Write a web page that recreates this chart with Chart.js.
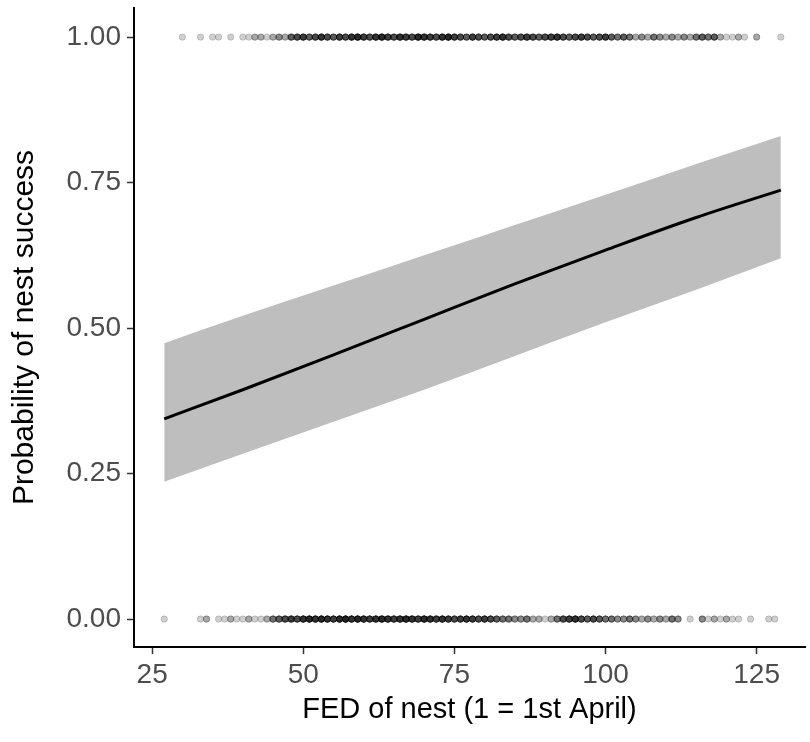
<!DOCTYPE html>
<html>
<head>
<meta charset="utf-8">
<script src="https://cdn.jsdelivr.net/npm/chart.js@4.4.1/dist/chart.umd.min.js"></script>
<style>
  html, body { margin: 0; padding: 0; background: #fff; }
  #wrap { width: 810px; height: 742px; }
</style>
</head>
<body>
<div id="wrap"><canvas id="nestChart" width="810" height="742"></canvas></div>
<script>
/* =====================================================
   DATA
===================================================== */
const fedX    = [27, 40, 55, 70, 85, 100, 115, 129];
const fitProb = [0.344, 0.394, 0.454, 0.515, 0.576, 0.634, 0.690, 0.737];
const ciUpper = [0.474, 0.521, 0.573, 0.625, 0.677, 0.729, 0.782, 0.830];
const ciLower = [0.236, 0.284, 0.339, 0.394, 0.452, 0.510, 0.566, 0.620];

const xTicks = [25, 50, 75, 100, 125];
const yTicks = [0, 0.25, 0.5, 0.75, 1];

// raw nests: day and how many nests share that day
const successDays = [30, 33, 35, 36, 38, 40, 41, 42, 43, 44, 45, 46, 47, 48, 49, 50, 51, 52, 53, 54,
  55, 56, 57, 58, 59, 60, 61, 62, 63, 64, 65, 66, 67, 68, 69, 70, 71, 72, 73, 74, 75, 76, 77, 78,
  79, 80, 81, 82, 83, 84, 85, 86, 87, 88, 89, 90, 91, 92, 93, 94, 95, 96, 97, 98, 99, 100, 101,
  102, 103, 104, 105, 106, 107, 108, 109, 110, 111, 112, 113, 114, 115, 116, 117, 118, 119, 120,
  121, 122, 123, 125, 129];
const successCounts = [1, 1, 1, 1, 1, 1, 1, 2, 2, 1, 2, 3, 2, 5, 6, 7, 5, 6, 8, 6,
  5, 7, 6, 8, 9, 7, 6, 8, 9, 7, 6, 8, 7, 6, 9, 8, 7, 6, 8, 9, 7, 6, 5, 7,
  6, 5, 6, 7, 8, 6, 5, 6, 7, 6, 5, 6, 7, 8, 6, 5, 6, 7, 6, 5, 6, 7, 5,
  4, 5, 4, 2, 3, 2, 4, 3, 2, 3, 2, 3, 2, 4, 5, 4, 5, 2, 1,
  1, 2, 1, 2, 1];

const failDays = [27, 33, 34, 36, 37, 38, 39, 40, 41, 42, 43, 44, 45, 46, 47, 48, 49, 50, 51, 52,
  53, 54, 55, 56, 57, 58, 59, 60, 61, 62, 63, 64, 65, 66, 67, 68, 69, 70, 71, 72, 73, 74, 75, 76,
  77, 78, 79, 80, 81, 82, 83, 84, 85, 86, 87, 88, 89, 90, 91, 92, 93, 94, 95, 96, 97, 98, 99, 100,
  101, 102, 103, 104, 105, 106, 107, 108, 109, 110, 111, 112, 114, 116, 117, 118, 119, 120, 121,
  122, 124, 127, 128];
const failCounts = [1, 1, 2, 1, 1, 2, 1, 1, 2, 1, 1, 2, 4, 5, 6, 7, 6, 8, 9, 8,
  9, 8, 7, 9, 10, 8, 9, 8, 7, 8, 9, 8, 7, 8, 9, 8, 7, 9, 8, 7, 8, 7, 6, 7,
  8, 7, 6, 7, 6, 5, 4, 4, 3, 3, 4, 2, 2, 1, 2, 4, 6, 7, 8, 6, 5, 6, 5, 4,
  4, 3, 3, 4, 3, 2, 3, 2, 3, 2, 4, 3, 1, 3, 1, 2, 1, 2, 1,
  1, 1, 1, 1];

/* =====================================================
   HELPERS
===================================================== */
function toPoints(xs, ys) {
  return xs.map((x, i) => ({ x, y: ys[i] }));
}

function dotPoints(days, counts, y) {
  const pts = [];
  days.forEach((d, i) => {
    for (let k = 0; k < counts[i]; k++) pts.push({ x: d, y });
  });
  return pts;
}

// pin the plot box: no extra room for overhanging tick labels
function noPad(s) {
  s.paddingTop = 0;
  s.paddingBottom = 0;
  s.paddingLeft = 0;
  s.paddingRight = 0;
}

const FONT = "'Liberation Sans', Arial, sans-serif";

/* =====================================================
   CHART
===================================================== */
const dotStyle = {
  showLine: false,
  pointRadius: 3.2,
  pointBackgroundColor: "rgba(0,0,0,0.19)",
  pointBorderColor: "rgba(0,0,0,0.17)",
  pointBorderWidth: 1,
  order: 0
};

new Chart(document.getElementById("nestChart"), {
  type: "scatter",
  data: {
    datasets: [
      {
        label: "upper",
        data: toPoints(fedX, ciUpper),
        showLine: true,
        cubicInterpolationMode: "monotone",
        borderWidth: 0,
        borderColor: "rgba(0,0,0,0)",
        backgroundColor: "#bebebe",
        pointRadius: 0,
        fill: "+1",
        order: 2
      },
      {
        label: "lower",
        data: toPoints(fedX, ciLower),
        showLine: true,
        cubicInterpolationMode: "monotone",
        borderWidth: 0,
        borderColor: "rgba(0,0,0,0)",
        pointRadius: 0,
        fill: false,
        order: 2
      },
      {
        label: "fit",
        data: toPoints(fedX, fitProb),
        showLine: true,
        cubicInterpolationMode: "monotone",
        borderColor: "#000",
        borderWidth: 3,
        pointRadius: 0,
        fill: false,
        order: 1
      },
      { label: "success", data: dotPoints(successDays, successCounts, 1), ...dotStyle },
      { label: "failed", data: dotPoints(failDays, failCounts, 0), ...dotStyle }
    ]
  },
  options: {
    responsive: false,
    animation: false,
    devicePixelRatio: 1,
    layout: { padding: { top: 8, right: 0, left: 0, bottom: 0 } },
    plugins: {
      legend: { display: false },
      tooltip: { enabled: false }
    },
    scales: {
      x: {
        type: "linear",
        min: 22,
        max: 133,
        afterBuildTicks: s => { s.ticks = xTicks.map(v => ({ value: v })); },
        afterFit: s => { s.height = 95; noPad(s); },
        grid: { drawOnChartArea: false, drawTicks: true, tickLength: 7, tickColor: "#333", tickWidth: 1.5 },
        border: { display: true, color: "#000", width: 2 },
        ticks: {
          color: "#4d4d4d",
          font: { family: FONT, size: 28 },
          padding: 4,
          maxRotation: 0,
          autoSkip: false,
          callback: v => String(v)
        },
        title: {
          display: true,
          text: "FED of nest (1 = 1st April)",
          color: "#000",
          font: { family: FONT, size: 29 },
          padding: { top: 0, bottom: 15 }
        }
      },
      y: {
        type: "linear",
        min: -0.048,
        max: 1.05,
        afterBuildTicks: s => { s.ticks = yTicks.map(v => ({ value: v })); },
        afterFit: s => { s.width = 134; noPad(s); },
        grid: { drawOnChartArea: false, drawTicks: true, tickLength: 7, tickColor: "#333", tickWidth: 1.5 },
        border: { display: true, color: "#000", width: 2 },
        ticks: {
          color: "#4d4d4d",
          font: { family: FONT, size: 28 },
          padding: 6,
          autoSkip: false,
          callback: v => Number(v).toFixed(2)
        },
        title: {
          display: true,
          text: "Probability of nest success",
          color: "#000",
          font: { family: FONT, size: 30 },
          padding: { top: 7, bottom: 0 }
        }
      }
    }
  }
});
</script>
</body>
</html>
